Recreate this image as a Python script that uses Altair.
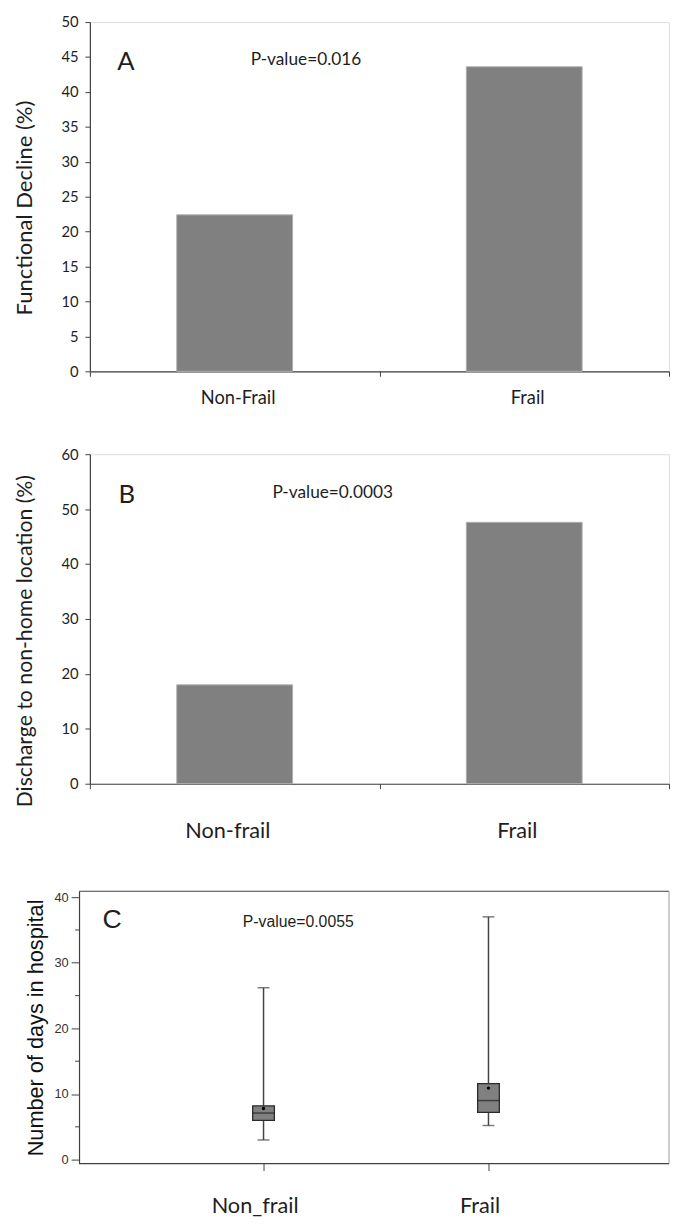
import altair as alt
import pandas as pd

# ---------------- data ----------------
groups_a = ["Non-Frail", "Frail"]
decline_pct = [22.4, 43.6]
ticks_a = [0, 5, 10, 15, 20, 25, 30, 35, 40, 45, 50]

groups_b = ["Non-frail", "Frail"]
discharge_pct = [18.0, 47.6]
ticks_b = [0, 10, 20, 30, 40, 50, 60]

groups_c = ["Non_frail", "Frail"]
los_min = [3.0, 5.2]
los_q1 = [6.0, 7.2]
los_median = [7.1, 9.0]
los_q3 = [8.2, 11.6]
los_max = [26.2, 37.0]
los_mean = [7.8, 10.9]
ticks_c_major = [0, 10, 20, 30, 40]
ticks_c_minor = [5, 15, 25, 35]

panel_letters = ["A", "B", "C"]
p_values = ["P-value=0.016", "P-value=0.0003", "P-value=0.0055"]
y_titles = ["Functional Decline (%)", "Discharge to non-home location (%)",
            "Number of days in hospital"]

# ---------------- style ----------------
W = 587
LINE = "#404040"
TXT = "#1e1e1e"
BAR = "#808080"
CAL = "Lato"
ARI = "Liberation Sans"
one = pd.DataFrame({"k": [0]})


def text_layer(txt, x, y, font, size, align):
    return alt.Chart(pd.DataFrame({"t": [txt]})).mark_text(
        font=font, fontSize=size, align=align, baseline="middle", color=TXT
    ).encode(x=alt.value(x), y=alt.value(y), text="t:N")


def spacer(dy):
    return alt.Chart(one).mark_rule(strokeOpacity=0).encode(
        x=alt.value(0), y=alt.value(dy), y2=alt.value(0))


def bar_panel(groups, values, ticks, ymax, height, ytitle, title_size, title_x, title_y,
              lab_size, lab_pad, lab_off, letter, letter_xy, ptxt, p_xy, extra):
    df = pd.DataFrame({"group": groups, "value": values})
    x = alt.X("group:N", sort=groups,
              scale=alt.Scale(paddingInner=0, paddingOuter=0),
              axis=alt.Axis(title=None, labelAngle=0, tickBand="extent",
                            tickSize=5, labelPadding=lab_pad, labelOffset=lab_off,
                            labelFont=CAL, labelFontSize=lab_size, labelColor=TXT,
                            domainColor=LINE, tickColor=LINE, domainWidth=1.2))
    y = alt.Y("value:Q", scale=alt.Scale(domain=[0, ymax], nice=False),
              axis=alt.Axis(title=ytitle, values=ticks, grid=False, tickSize=5,
                            labelPadding=7, labelFont=CAL, labelFontSize=15,
                            labelColor=TXT, domainColor=LINE, tickColor=LINE,
                            domainWidth=1.2,
                            titleFont=CAL, titleFontSize=title_size,
                            titleFontWeight="normal",
                            titleColor=TXT, titleX=title_x, titleY=title_y,
                            titleBaseline="middle", titleAngle=-90))
    bars = alt.Chart(df).mark_bar(
        width=alt.RelativeBandSize(0.4), color=BAR, stroke="#b0b0b0", strokeWidth=1
    ).encode(x=x, y=y)
    lt = text_layer(letter, letter_xy[0], letter_xy[1], CAL, 26, "center")
    pt = text_layer(ptxt, p_xy[0], p_xy[1], CAL, 17.5, "left")
    return alt.layer(bars, lt, pt, *extra).properties(width=W, height=height)


panel_a = bar_panel(groups_a, decline_pct, ticks_a, 50, 354, y_titles[0], 22.3, -66, 188,
                    18.5, 13, 3, panel_letters[0], (36.5, 41), p_values[0], (163, 38.5),
                    [spacer(-22)])
panel_b = bar_panel(groups_b, discharge_pct, ticks_b, 60, 334, y_titles[1], 21.5, -65, 189,
                    22, 32, -7.5, panel_letters[1], (37.5, 41), p_values[1], (185, 39.5),
                    [])

# ---------------- panel C: box plot ----------------
HC = 276
df_c = pd.DataFrame({"group": groups_c, "mn": los_min, "q1": los_q1, "med": los_median,
                     "q3": los_q3, "mx": los_max, "mean": los_mean})
xsc = alt.Scale(type="point", range=[176, 404], padding=0)
ysc = alt.Scale(domain=[-0.6, 40.9], nice=False, zero=False)
xc_axis = alt.Axis(title=None, labelAngle=0, domain=False, tickSize=7, tickColor=LINE,
                   labelPadding=26, labelOffset=-9, labelFont=CAL, labelFontSize=22,
                   labelColor=TXT)
yc_axis = alt.Axis(title=y_titles[2], values=ticks_c_major, grid=False, offset=11,
                   tickSize=8, labelPadding=3, labelFont=ARI, labelFontSize=13,
                   labelColor="#333333", domainColor=LINE, tickColor=LINE, domainWidth=1.2,
                   titleFont=ARI, titleFontSize=22, titleFontWeight="normal",
                   titleColor="#111111", titleX=-44, titleY=HC / 2,
                   titleBaseline="middle", titleAngle=-90)


def xc():
    return alt.X("group:N", sort=groups_c, scale=xsc, axis=xc_axis)


def yc(field):
    return alt.Y(field, scale=ysc, axis=yc_axis)


base_c = alt.Chart(df_c)
whisk = base_c.mark_rule(color="#444444", strokeWidth=1.5).encode(
    x=xc(), y=yc("mn:Q"), y2="mx:Q")
cap_lo = base_c.mark_tick(size=12, thickness=1.5, color="#444444", orient="horizontal").encode(
    x=xc(), y=yc("mn:Q"))
cap_hi = base_c.mark_tick(size=12, thickness=1.5, color="#444444", orient="horizontal").encode(
    x=xc(), y=yc("mx:Q"))
box = base_c.mark_bar(size=22, fill=BAR, stroke="#2a2a2a", strokeWidth=1.3).encode(
    x=xc(), y=yc("q1:Q"), y2="q3:Q")
med = base_c.mark_tick(size=22, thickness=1.5, color="#222222", orient="horizontal").encode(
    x=xc(), y=yc("med:Q"))
mean = base_c.mark_circle(size=12, color="#000000", opacity=1).encode(
    x=xc(), y=yc("mean:Q"))
minor = alt.Chart(pd.DataFrame({"v": ticks_c_minor})).mark_rule(
    color=LINE, strokeWidth=1).encode(
    y=yc("v:Q"), x=alt.value(-15), x2=alt.value(-11))

frame_top = alt.Chart(one).mark_rule(color=LINE, strokeWidth=1.2).encode(
    x=alt.value(-11), x2=alt.value(W), y=alt.value(0))
frame_bot = alt.Chart(one).mark_rule(color=LINE, strokeWidth=1.2).encode(
    x=alt.value(-11), x2=alt.value(W), y=alt.value(HC))
frame_right = alt.Chart(one).mark_rule(color="#9a9a9a", strokeWidth=1).encode(
    x=alt.value(W), y=alt.value(0), y2=alt.value(HC))

lt_c = text_layer(panel_letters[2], 22.5, 29, ARI, 27, "center")
pt_c = text_layer(p_values[2], 155, 31, ARI, 16, "left")

panel_c = alt.layer(whisk, cap_lo, cap_hi, box, med, mean, minor,
                    frame_top, frame_bot, frame_right, spacer(-10), lt_c, pt_c).properties(
    width=W, height=HC, view=alt.ViewBackground(stroke="transparent"))

chart = alt.vconcat(panel_a, panel_b, panel_c, spacing=39).properties(
    padding={"left": 5, "top": -17, "right": 0, "bottom": -1}
).configure_view(stroke=LINE, strokeWidth=1.2).configure(background="white")

chart.save("out.html", embed_options={"renderer": "svg", "actions": False})
